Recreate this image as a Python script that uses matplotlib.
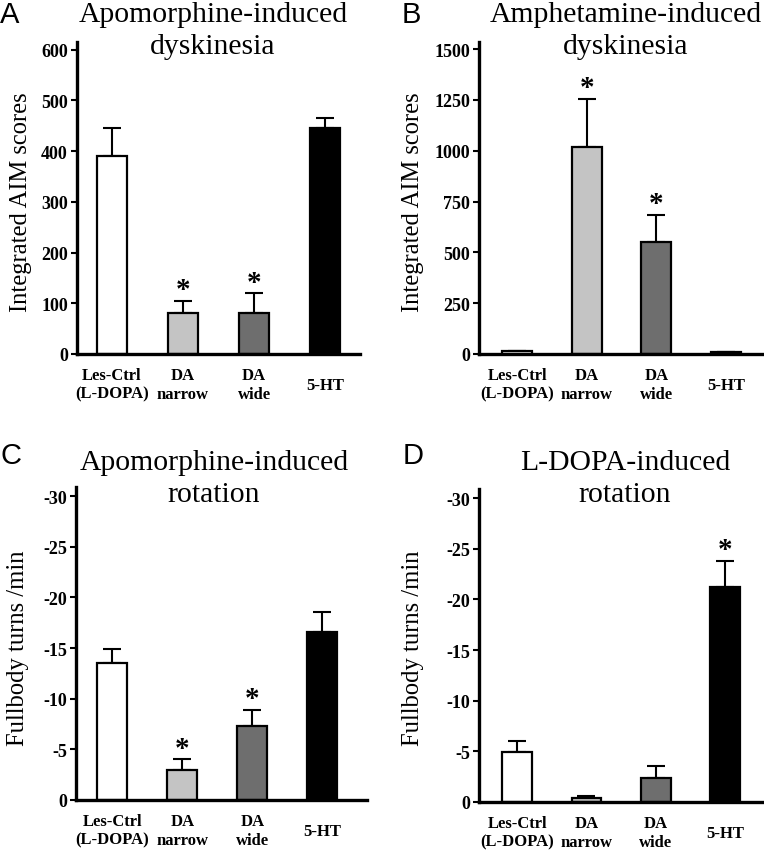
import numpy as np
import matplotlib
matplotlib.use("Agg")
import matplotlib.pyplot as plt

# ---- data ----
groups = ["Les-Ctrl\n(L-DOPA)", "DA\nnarrow", "DA\nwide", "5-HT"]
bar_colors = ["#ffffff", "#c4c4c4", "#6e6e6e", "#000000"]

apo_dysk_mean = [390, 80, 80, 445]
apo_dysk_top = [445, 105, 120, 465]
apo_dysk_sig = [False, True, True, False]

amph_dysk_mean = [15, 1020, 550, 8]
amph_dysk_top = [15, 1255, 685, 8]
amph_dysk_sig = [False, True, True, False]

apo_rot_mean = [-13.5, -3.0, -7.3, -16.6]
apo_rot_top = [-14.9, -4.0, -8.9, -18.6]
apo_rot_sig = [False, True, True, False]

ldopa_rot_mean = [-4.9, -0.4, -2.4, -21.2]
ldopa_rot_top = [-6.0, -0.6, -3.6, -23.8]
ldopa_rot_sig = [False, False, False, True]

dysk_ticks = [[0, 100, 200, 300, 400, 500, 600], [0, 250, 500, 750, 1000, 1250, 1500]]
rot_ticks = [0, -5, -10, -15, -20, -25, -30]

W, H = 764, 853
fig = plt.figure(figsize=(W / 100, H / 100), dpi=100)
fig.patch.set_facecolor("white")

SERIF = ["Liberation Serif", "DejaVu Serif"]
SANS = ["Liberation Sans", "DejaVu Sans"]


def px_rect(left, right, bottom, top):
    return [left / W, 1 - bottom / H, (right - left) / W, (bottom - top) / H]


def panel(rect, xlim, ylim, mean, top, sig, yticks, ylabel, ylab_xy, title, title_xy, letter, letter_xy):
    ax = fig.add_axes(rect)
    x = np.arange(len(groups))
    mean = np.asarray(mean, float)
    top = np.asarray(top, float)
    ax.bar(x, mean, width=0.43, color=bar_colors, edgecolor="black", linewidth=1.6, zorder=2)
    d = top - mean
    lower = np.where(d < 0, -d, 0)
    upper = np.where(d > 0, d, 0)
    ax.errorbar(x, mean, yerr=[lower, upper], fmt="none", ecolor="black",
                elinewidth=1.5, capsize=6.5, capthick=1.5, zorder=1)
    for xi, t, s in zip(x, top, sig):
        if s:
            ax.annotate("*", (xi, t), xytext=(0, 8), textcoords="offset points",
                        ha="center", va="center", fontsize=21, fontweight="bold",
                        family=SERIF)
    ax.set_xlim(*xlim)
    ax.set_ylim(*ylim)
    ax.set_yticks(yticks)
    ax.set_yticklabels([str(v) for v in yticks], family=SERIF, fontweight="bold", fontsize=13)
    ax.set_xticks(x)
    ax.set_xticklabels(groups, family=SERIF, fontweight="bold", fontsize=12,
                       va="center", linespacing=1.22)
    ax.tick_params(axis="x", length=0, pad=22)
    ax.tick_params(axis="y", direction="out", length=4.5, width=1.5, pad=2)
    for s in ["top", "right"]:
        ax.spines[s].set_visible(False)
    for s in ["left", "bottom"]:
        ax.spines[s].set_linewidth(2.4)
    ax.set_ylabel(ylabel, family=SERIF, fontsize=17.7)
    ax.yaxis.set_label_coords(ylab_xy[0] / W, 1 - ylab_xy[1] / H, transform=fig.transFigure)
    fig.text(title_xy[0] / W, 1 - title_xy[1] / H, title, ha="center", va="center",
             family=SERIF, fontsize=21.3, linespacing=1.33)
    fig.text(letter_xy[0] / W, 1 - letter_xy[1] / H, letter, ha="left", va="center",
             family=SANS, fontsize=21)
    ax.set_facecolor("none")
    return ax


panel(px_rect(77, 360, 355, 43), (-0.49, 3.49), (0, 615), apo_dysk_mean, apo_dysk_top,
      apo_dysk_sig, dysk_ticks[0], "Integrated AIM scores", (32, 202),
      "Apomorphine-induced\ndyskinesia", (213, 31), "A", (0, 15))
panel(px_rect(479, 764, 355, 43), (-0.55, 3.55), (0, 1535), amph_dysk_mean, amph_dysk_top,
      amph_dysk_sig, dysk_ticks[1], "Integrated AIM scores", (424, 202),
      "Amphetamine-induced\ndyskinesia", (626, 31), "B", (402, 15))
panel(px_rect(76, 367, 801, 488), (-0.52, 3.64), (0, -30.9), apo_rot_mean, apo_rot_top,
      apo_rot_sig, rot_ticks, "Fullbody turns /min", (29, 648),
      "Apomorphine-induced\nrotation", (214, 479), "C", (0, 456))
panel(px_rect(479, 764, 803, 490), (-0.55, 3.56), (0, -30.9), ldopa_rot_mean, ldopa_rot_top,
      ldopa_rot_sig, rot_ticks, "Fullbody turns /min", (424, 648),
      "L-DOPA-induced\nrotation", (625, 479), "D", (403, 456))

fig.savefig("out.png", dpi=100, facecolor="white")
